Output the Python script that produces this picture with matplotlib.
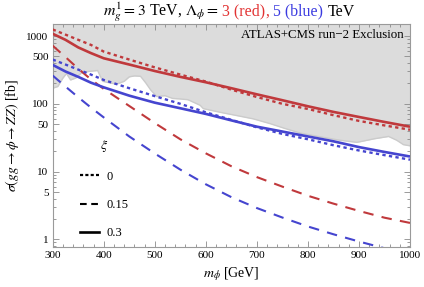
import matplotlib
matplotlib.use('Agg')
import matplotlib.pyplot as plt
from matplotlib.lines import Line2D
from matplotlib.ticker import FixedLocator, NullFormatter, MultipleLocator, FixedFormatter

plt.rcParams['font.family'] = ['Liberation Serif', 'DejaVu Serif']
plt.rcParams['mathtext.fontset'] = 'stix'

# ---------------- data ----------------
mass = [300, 325, 350, 375, 400, 450, 500, 550, 600, 650, 700, 750, 800, 850, 900, 950, 1000]

# Lambda_phi = 3 TeV (red)
red_xi0 = [1250, 1050, 880, 740, 590, 450, 345, 270, 213, 162, 126, 100, 84, 68, 56, 48, 41.5]
red_xi015 = [720, 490, 330, 229, 166, 93, 52, 30, 18.6, 12, 8.3, 6.0, 4.4, 3.37, 2.63, 2.09, 1.75]
red_xi03 = [1080, 880, 680, 560, 470, 380, 305, 250, 208, 170, 138, 113, 92, 76, 64, 54, 46]

# Lambda_phi = 5 TeV (blue)
blue_xi0 = [450, 380, 320, 270, 225, 170, 130, 100, 75, 58, 45, 36, 30, 24.5, 20.5, 17.5, 15]
blue_xi015 = [261, 180, 125, 88, 63, 33, 18.5, 10.7, 6.5, 4.2, 2.9, 2.1, 1.55, 1.19, 0.93, 0.74, 0.6]
blue_xi03 = [375, 300, 250, 205, 175, 132, 104, 86, 71, 57, 46, 39, 33, 28, 23, 19.5, 16.7]

# ATLAS+CMS run-2 exclusion boundary
excl_mass = [300, 310, 320, 327, 335, 345, 356, 370, 388, 398, 410, 425, 440, 450, 460, 472,
             482, 492, 504, 520, 535, 550, 565, 589, 595, 628, 661, 693, 726, 752, 785, 830,
             863, 896, 930, 958, 974, 987, 1000]
excl_sigma = [170, 180, 240, 280, 225, 240, 285, 300, 310, 215, 205, 195, 215, 250, 258, 255,
              205, 160, 128, 132, 120, 118, 115, 95, 85, 75, 67, 60, 51, 44, 37, 32,
              29, 27, 30.5, 33, 29, 25, 24]

xi_labels = ['0', '0.15', '0.3']
xticks = [300, 400, 500, 600, 700, 800, 900, 1000]
yticks = [1, 5, 10, 50, 100, 500, 1000]
ytick_labels = ['1', '5', '10', '50', '100', '500', '1000']

RED = '#c0393c'
BLUE = '#4545cf'
TRED = '#e23232'
TBLUE = '#3a3ae0'

fig = plt.figure(figsize=(4.24, 2.87), dpi=100)
ax = fig.add_axes([0.1243, 0.1404, 0.967 - 0.1243, 0.9153 - 0.1404])

ax.set_yscale('log')
ax.set_xlim(300, 1000)
ax.set_ylim(0.78, 1490)

# exclusion region
ax.fill_between(excl_mass, excl_sigma, 1e5, color='#dcdcdc', lw=0, zorder=1)
ax.plot(excl_mass, excl_sigma, color='#cbcbcb', lw=1.0, zorder=1.5)

styles = {
    'dot': dict(linestyle=(0, (1.4, 1.4)), lw=1.7),
    'dash': dict(linestyle=(0, (5.0, 4.0)), lw=1.5),
    'solid': dict(linestyle='-', lw=1.9),
}
for col, series in [(RED, [red_xi0, red_xi015, red_xi03]), (BLUE, [blue_xi0, blue_xi015, blue_xi03])]:
    for key, vals in zip(['dot', 'dash', 'solid'], series):
        ax.plot(mass, vals, color=col, zorder=3, solid_capstyle='butt', dash_capstyle='butt', **styles[key])

# ticks
ax.xaxis.set_major_locator(FixedLocator(xticks))
ax.xaxis.set_minor_locator(MultipleLocator(20))
ax.yaxis.set_major_locator(FixedLocator(yticks))
ax.yaxis.set_major_formatter(FixedFormatter(ytick_labels))
minor_y = [m * d for d in [0.1, 1, 10, 100, 1000] for m in [2, 3, 4, 6, 7, 8, 9]]
ax.yaxis.set_minor_locator(FixedLocator(minor_y))
ax.yaxis.set_minor_formatter(NullFormatter())
ax.tick_params(which='both', direction='in', top=True, right=True, color='#8a8a8a',
               labelsize=8, labelcolor='black', width=0.6)
ax.tick_params(which='major', length=4, pad=3)
ax.tick_params(which='minor', length=2.2)
for s in ax.spines.values():
    s.set_color('#9a9a9a')
    s.set_linewidth(0.8)

ax.set_xlabel(r'$m_\phi$ [GeV]', fontsize=10, labelpad=4)
ax.set_ylabel(r'$\sigma(gg\to\phi\to ZZ)$ [fb]', fontsize=10, labelpad=4)

ax.text(0.982, 0.952, 'ATLAS+CMS run\u22122 Exclusion', transform=ax.transAxes,
        ha='right', va='center', fontsize=9.3, zorder=5)

handles = [Line2D([], [], color='black', linestyle=(0, (1.4, 1.0)), lw=1.6),
           Line2D([], [], color='black', linestyle=(0, (3.2, 2.2)), lw=1.5),
           Line2D([], [], color='black', linestyle='-', lw=1.9)]
leg = ax.legend(handles, xi_labels, title=r'$\xi$', loc='upper left',
                bbox_to_anchor=(0.06, 0.515), frameon=False, fontsize=9,
                title_fontsize=10, handlelength=1.45, handletextpad=0.6,
                labelspacing=1.3, borderpad=0)
leg.get_title().set_ha('center')

# multicoloured title
fig.canvas.draw()
r = fig.canvas.get_renderer()
pieces = [(r'$m_g^1=3$ TeV, $\Lambda_\phi=$', 'black', 0.0),
          ('3 (red)', TRED, 3.5),
          (',', TRED, 0.0),
          ('5 (blue)', TBLUE, 4.5),
          ('TeV', 'black', 4.5)]
texts = []
total = 0.0
for s, c, gap in pieces:
    t = fig.text(0, 0, s, color=c, fontsize=11.4, ha='left', va='baseline')
    w = t.get_window_extent(renderer=r).width
    texts.append((t, w, gap))
    total += w + gap
W, H = fig.bbox.width, fig.bbox.height
x = 229 - total / 2.0
ybase = 1 - 15.5 / 287
for t, w, gap in texts:
    x += gap
    t.set_position((x / W, ybase))
    x += w

fig.savefig('out.png', dpi=100)
